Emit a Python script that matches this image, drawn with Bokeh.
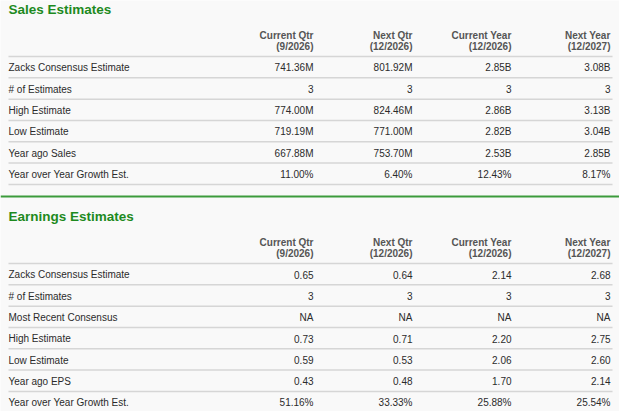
from bokeh.plotting import figure
from bokeh.models import Range1d, ColumnDataSource
from bokeh.core.properties import value
from bokeh.embed import file_html
from bokeh.resources import INLINE

# column headers
columns = ["Current Qtr", "Next Qtr", "Current Year", "Next Year"]
sales_periods = ["(9/2026)", "(12/2026)", "(12/2026)", "(12/2027)"]
earn_periods = ["(9/2026)", "(12/2026)", "(12/2026)", "(12/2027)"]

# Sales Estimates
sales_rows = ["Zacks Consensus Estimate", "# of Estimates", "High Estimate",
              "Low Estimate", "Year ago Sales", "Year over Year Growth Est."]
sales_current_qtr = ["741.36M", "3", "774.00M", "719.19M", "667.88M", "11.00%"]
sales_next_qtr = ["801.92M", "3", "824.46M", "771.00M", "753.70M", "6.40%"]
sales_current_year = ["2.85B", "3", "2.86B", "2.82B", "2.53B", "12.43%"]
sales_next_year = ["3.08B", "3", "3.13B", "3.04B", "2.85B", "8.17%"]

# Earnings Estimates
earn_rows = ["Zacks Consensus Estimate", "# of Estimates", "Most Recent Consensus",
             "High Estimate", "Low Estimate", "Year ago EPS", "Year over Year Growth Est."]
earn_current_qtr = ["0.65", "3", "NA", "0.73", "0.59", "0.43", "51.16%"]
earn_next_qtr = ["0.64", "3", "NA", "0.71", "0.53", "0.48", "33.33%"]
earn_current_year = ["2.14", "3", "NA", "2.20", "2.06", "1.70", "25.88%"]
earn_next_year = ["2.68", "3", "NA", "2.75", "2.60", "2.14", "25.54%"]

FONT = value("Liberation Sans")
GREEN = "#1e8a1e"
col_right = [313, 412, 511, 610]
left_x = 8
line_end = 612
row_h = 21.33

p = figure(width=619, height=411, output_backend="svg", toolbar_location=None,
           x_range=Range1d(0, 619), y_range=Range1d(411, 0), min_border=0)
p.axis.visible = False
p.grid.visible = False
p.outline_line_color = None
p.background_fill_color = "#f9f9f9"
p.border_fill_color = "#f9f9f9"


def draw_table(title, top, rows, period_labels, cols_values):
    # title
    p.text(x=[left_x], y=[top + 9], text=[title], text_font=FONT,
           text_font_size="13.5px", text_font_style="bold", text_color=GREEN,
           text_baseline="middle", text_align="left")
    # column headers
    p.text(x=col_right, y=[top + 34.5] * 4, text=columns, text_font=FONT,
           text_font_size="10px", text_font_style="bold", text_color="#555555",
           text_baseline="middle", text_align="right")
    p.text(x=col_right, y=[top + 46] * 4, text=period_labels, text_font=FONT,
           text_font_size="10px", text_font_style="bold", text_color="#555555",
           text_baseline="middle", text_align="right")
    # separators
    ys = [top + 56] + [top + 77.3 + row_h * i for i in range(len(rows))]
    src = ColumnDataSource(dict(x0=[left_x] * len(ys), x1=[line_end] * len(ys), y=ys))
    p.segment(x0="x0", y0="y", x1="x1", y1="y", source=src,
              line_color="#d6d6d6", line_width=1.5)
    # row labels
    row_y = [top + 67.3 + row_h * i for i in range(len(rows))]
    p.text(x=[left_x] * len(rows), y=row_y, text=rows, text_font=FONT,
           text_font_size="10px", text_color="#2b2b2b",
           text_baseline="middle", text_align="left")
    # values
    for cx, vals in zip(col_right, cols_values):
        p.text(x=[cx] * len(vals), y=row_y, text=vals, text_font=FONT,
               text_font_size="10px", text_color="#2b2b2b",
               text_baseline="middle", text_align="right")


draw_table("Sales Estimates", 0, sales_rows, sales_periods,
           [sales_current_qtr, sales_next_qtr, sales_current_year, sales_next_year])

# green divider between the two tables
p.segment(x0=[0], y0=[196], x1=[619], y1=[196], line_color="#3c9b3c", line_width=2)

draw_table("Earnings Estimates", 207, earn_rows, earn_periods,
           [earn_current_qtr, earn_next_qtr, earn_current_year, earn_next_year])

open("out.html", "w").write(file_html(p, INLINE))
